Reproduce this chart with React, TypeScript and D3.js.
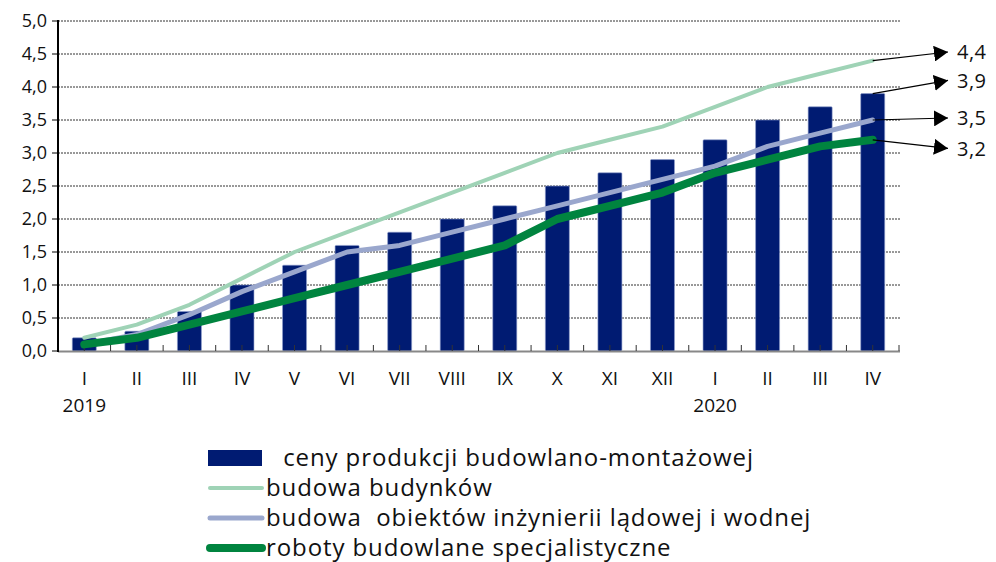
import React from "react";
import * as d3 from "d3";

const categories = ["I", "II", "III", "IV", "V", "VI", "VII", "VIII", "IX", "X", "XI", "XII", "I", "II", "III", "IV"];
const yearLabels = [
  { index: 0, label: "2019" },
  { index: 12, label: "2020" },
];
const barValues = [0.2, 0.3, 0.6, 1.0, 1.3, 1.6, 1.8, 2.0, 2.2, 2.5, 2.7, 2.9, 3.2, 3.5, 3.7, 3.9];
const budynkiValues = [0.2, 0.4, 0.7, 1.1, 1.5, 1.8, 2.1, 2.4, 2.7, 3.0, 3.2, 3.4, 3.7, 4.0, 4.2, 4.4];
const inzynieriaValues = [0.1, 0.25, 0.55, 0.9, 1.2, 1.5, 1.6, 1.8, 2.0, 2.2, 2.4, 2.6, 2.8, 3.1, 3.3, 3.5];
const robotyValues = [0.1, 0.2, 0.4, 0.6, 0.8, 1.0, 1.2, 1.4, 1.6, 2.0, 2.2, 2.4, 2.7, 2.9, 3.1, 3.2];
const yTicks = [0, 0.5, 1, 1.5, 2, 2.5, 3, 3.5, 4, 4.5, 5];
const endLabels = [
  { value: 4.4, from: "budynki", labelY: 4.53 },
  { value: 3.9, from: "bars", labelY: 4.1 },
  { value: 3.5, from: "inzynieria", labelY: 3.53 },
  { value: 3.2, from: "roboty", labelY: 3.07 },
];
const legendItems = [
  { label: " ceny produkcji budowlano-montażowej", kind: "bar" },
  { label: "budowa budynków", kind: "budynki" },
  { label: "budowa  obiektów inżynierii lądowej i wodnej", kind: "inzynieria" },
  { label: "roboty budowlane specjalistyczne", kind: "roboty" },
];

const COLORS: Record<string, string> = {
  bar: "#001b72",
  budynki: "#9fd3b6",
  inzynieria: "#9aa7cd",
  roboty: "#00843f",
};
const WIDTHS: Record<string, number> = { budynki: 4, inzynieria: 5, roboty: 8 };

const FONT = "'Open Sans', 'Noto Sans', sans-serif";

export default function App() {
  const W = 996;
  const H = 562;
  const left = 58;
  const right = 899;
  const top = 21;
  const bottom = 351;

  const x = d3.scaleBand<number>().domain(d3.range(categories.length)).range([left, right]).padding(0);
  const y = d3.scaleLinear().domain([0, 5]).range([bottom, top]);
  const cx = (i: number) => (x(i) as number) + x.bandwidth() / 2;
  const barW = 24;

  const line = d3
    .line<number>()
    .x((_, i) => cx(i))
    .y((d) => y(d))
    .curve(d3.curveLinear);

  const series: Record<string, number[]> = {
    budynki: budynkiValues,
    inzynieria: inzynieriaValues,
    roboty: robotyValues,
    bars: barValues,
  };

  const halfTicks = d3.range(categories.length * 2 + 1).map((k) => left + (k * x.bandwidth()) / 2);
  const lastX = cx(categories.length - 1);

  return (
    <svg width={W} height={H} style={{ position: "absolute", left: 0, top: 0, background: "#fff" }}>
      {/* grid */}
      {yTicks.slice(1).map((t) => (
        <line key={t} x1={left} x2={right + 1} y1={y(t)} y2={y(t)} stroke="#333" strokeWidth={1} strokeDasharray="2,1" />
      ))}
      {/* bars */}
      {barValues.map((v, i) => (
        <rect
          key={i}
          x={cx(i) - barW / 2}
          y={y(v)}
          width={barW}
          height={bottom - y(v)}
          fill={COLORS.bar}
          stroke="#8f9dcc"
          strokeWidth={0.6}
          rx={1}
        />
      ))}
      {/* x axis */}
      <line x1={left} x2={right + 1} y1={bottom + 0.5} y2={bottom + 0.5} stroke="#888" strokeWidth={2} />
      {halfTicks.map((tx, k) => (
        <line key={k} x1={tx} x2={tx} y1={bottom} y2={bottom - 6} stroke="#333" strokeWidth={1} />
      ))}
      {/* lines */}
      {["budynki", "inzynieria", "roboty"].map((k) => (
        <path
          key={k}
          d={line(series[k]) as string}
          fill="none"
          stroke={COLORS[k]}
          strokeWidth={WIDTHS[k]}
          strokeLinejoin="round"
          strokeLinecap="round"
        />
      ))}
      {/* y axis */}
      <line x1={left} x2={left} y1={top - 1} y2={bottom + 1} stroke="#000" strokeWidth={2} />
      {yTicks.map((t) => (
        <g key={t}>
          <line x1={left - 6} x2={left} y1={y(t)} y2={y(t)} stroke="#000" strokeWidth={1} />
          <text x={47} y={y(t)} dy="0.35em" textAnchor="end" fontFamily={FONT} fontSize={18} fill="#111">
            {d3.format(".1f")(t).replace(".", ",")}
          </text>
        </g>
      ))}
      {/* x labels */}
      {categories.map((c, i) => (
        <text key={i} x={cx(i)} y={385} textAnchor="middle" fontFamily={FONT} fontSize={19} fill="#111">
          {c}
        </text>
      ))}
      {yearLabels.map((yl) => (
        <text key={yl.label} x={cx(yl.index)} y={412} textAnchor="middle" fontFamily={FONT} fontSize={19} fill="#111">
          {yl.label}
        </text>
      ))}
      {/* end annotations */}
      <defs>
        <marker id="arrow" viewBox="0 0 14 16" refX={14} refY={8} markerWidth={14} markerHeight={16} markerUnits="userSpaceOnUse" orient="auto">
          <path d="M0,0 L14,8 L0,16 Z" fill="#000" />
        </marker>
      </defs>
      {endLabels.map((e) => {
        const y0 = y(e.value);
        const y1 = y(e.labelY);
        return (
          <g key={e.value}>
            <line x1={lastX} y1={y0} x2={948} y2={y1} stroke="#000" strokeWidth={1.2} markerEnd="url(#arrow)" />
            <text x={957} y={y1} dy="0.36em" fontFamily={FONT} fontSize={20} letterSpacing={0.5} fill="#111">
              {d3.format(".1f")(e.value).replace(".", ",")}
            </text>
          </g>
        );
      })}
      {/* legend */}
      {legendItems.map((it, i) => {
        const ly = 458 + i * 30;
        return (
          <g key={it.kind}>
            {it.kind === "bar" ? (
              <rect x={208} y={ly - 8} width={54} height={16} fill={COLORS.bar} />
            ) : (
              <line x1={210} x2={262} y1={ly} y2={ly} stroke={COLORS[it.kind]} strokeWidth={WIDTHS[it.kind]} strokeLinecap="round" />
            )}
            <text
              x={it.kind === "bar" ? 276 : 266}
              y={ly}
              dy="0.35em"
              fontFamily={FONT}
              fontSize={24}
              letterSpacing={0.9}
              fill="#111"
              style={{ whiteSpace: "pre" }}
            >
              {it.label}
            </text>
          </g>
        );
      })}
    </svg>
  );
}
